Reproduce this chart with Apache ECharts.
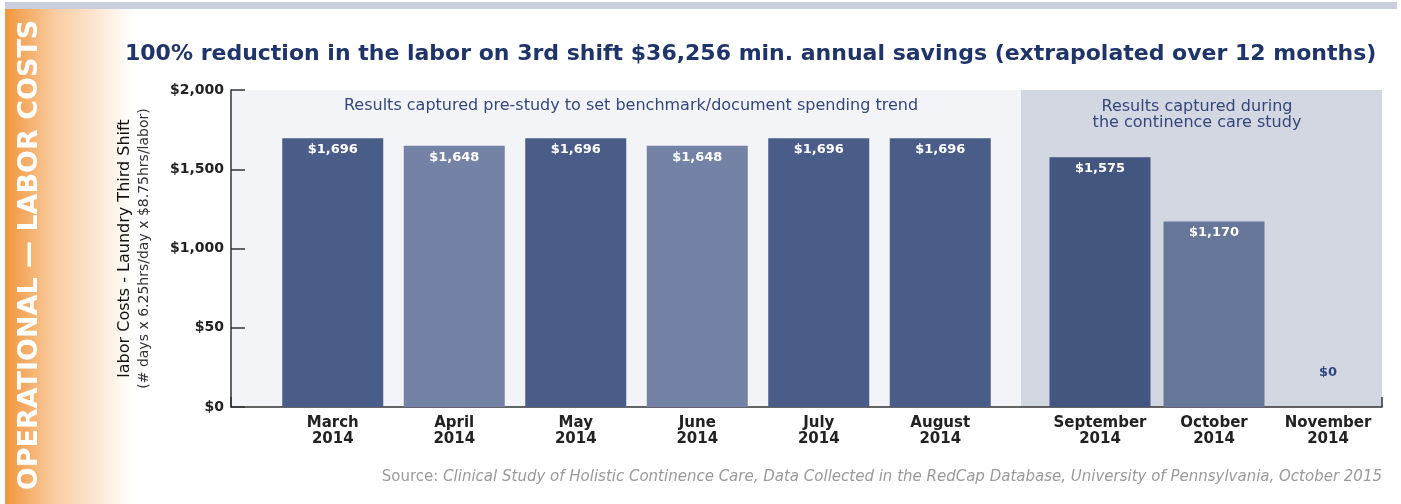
<!DOCTYPE html>
<html>
<head>
<meta charset="utf-8">
<script src="https://cdn.jsdelivr.net/npm/echarts@6/dist/echarts.min.js"></script>
<style>
  html, body { margin: 0; padding: 0; background: #fff; }
  #chart { width: 1401px; height: 504px; }
</style>
</head>
<body>
<div id="chart"></div>
<script>
  // months before the study (benchmark) and during the study
  const preMonths = ['March\n2014', 'April\n2014', 'May\n2014', 'June\n2014', 'July\n2014', 'August\n2014']
  const preCosts = [1696, 1648, 1696, 1648, 1696, 1696]
  const studyMonths = ['September\n2014', 'October\n2014', 'November\n2014']
  const studyCosts = [1575, 1170, 0]
  // tick labels exactly as printed on the original axis
  const yTickLabels = ['$0', '$50', '$1,000', '$1,500', '$2,000']

  const preColors = ['#4a5d89', '#7382a5', '#4a5d89', '#7382a5', '#4a5d89', '#4a5d89']
  const studyColors = ['#43567f', '#677799', '#677799']

  const FONT = 'DejaVu Sans'
  const money = v => '$' + v.toLocaleString('en-US')

  const valueLabel = {
    show: true,
    position: 'insideTop',
    distance: 5,
    color: '#fff',
    fontFamily: FONT,
    fontWeight: 'bold',
    fontSize: 13,
    formatter: p => money(p.value),
  }

  const monthAxis = (grid, data) => ({
    type: 'category',
    gridIndex: grid,
    data: data,
    axisLine: { show: false },
    axisTick: { show: false },
    axisLabel: {
      color: '#222',
      fontFamily: FONT,
      fontWeight: 'bold',
      fontSize: 15,
      lineHeight: 16,
      margin: 8,
      interval: 0,
    },
  })

  const hiddenY = grid => ({
    type: 'value', gridIndex: grid, min: 0, max: 2000, show: false,
  })

  const chart = echarts.init(document.getElementById('chart'))
  const option = {
    backgroundColor: '#fff',
    animation: false,
    title: {
      text: '100% reduction in the labor on 3rd shift $36,256 min. annual savings (extrapolated over 12 months)',
      left: 120,
      top: 38,
      textStyle: { color: '#1f3468', fontFamily: FONT, fontWeight: 'bold', fontSize: 22 },
    },
    grid: [
      { left: 231, right: 19, top: 90, bottom: 97 }, // frame
      { left: 272, width: 729, top: 90, bottom: 97 }, // pre-study
      { left: 1043, width: 342, top: 90, bottom: 97 }, // study
    ],
    xAxis: [
      {
        type: 'value', gridIndex: 0, min: 0, max: 1, interval: 1,
        axisLine: { show: true, lineStyle: { color: '#333', width: 1.5 } },
        axisTick: { show: true, inside: true, length: 10, lineStyle: { color: '#333', width: 1.5 } },
        axisLabel: { show: false },
        splitLine: { show: false },
      },
      monthAxis(1, preMonths),
      monthAxis(2, studyMonths),
    ],
    yAxis: [
      {
        type: 'value', gridIndex: 0, min: 0, max: 2000, interval: 500,
        axisLine: { show: true, lineStyle: { color: '#333', width: 1.5 } },
        axisTick: { show: true, inside: true, length: 14, lineStyle: { color: '#333', width: 1.5 } },
        axisLabel: {
          color: '#222', fontFamily: FONT, fontWeight: 'bold', fontSize: 14, margin: 7,
          formatter: v => yTickLabels[v / 500],
        },
        splitLine: { show: false },
        name: '{a|labor Costs - Laundry Third Shift}\n{b|(# days x 6.25hrs/day x $8.75hrs/labor)}',
        nameLocation: 'middle',
        nameRotate: 90,
        nameGap: 78,
        nameTextStyle: {
          rich: {
            a: { fontFamily: FONT, fontSize: 16, color: '#111', lineHeight: 20 },
            b: { fontFamily: FONT, fontSize: 14, color: '#333', lineHeight: 18 },
          },
        },
      },
      hiddenY(1),
      hiddenY(2),
    ],
    graphic: [
      { type: 'rect', shape: { x: 5, y: 2, width: 1392, height: 7 }, style: { fill: '#c9cfdc' } },
      {
        type: 'rect',
        shape: { x: 5, y: 9, width: 128, height: 495 },
        style: {
          fill: new echarts.graphic.LinearGradient(0, 0, 1, 0, [
            { offset: 0, color: '#f0963c' },
            { offset: 0.4, color: '#f9cda3' },
            { offset: 1, color: '#ffffff' },
          ]),
        },
      },
      {
        type: 'text',
        x: 30, y: 255, rotation: Math.PI / 2,
        style: {
          text: 'OPERATIONAL — LABOR COSTS',
          fill: '#fff', font: 'bold 27px "DejaVu Sans"',
          align: 'center', verticalAlign: 'middle',
        },
      },
      { type: 'rect', z: -1, shape: { x: 231, y: 90, width: 790, height: 317 }, style: { fill: '#f3f4f8' } },
      { type: 'rect', z: -1, shape: { x: 1021, y: 90, width: 361, height: 317 }, style: { fill: '#d3d7e2' } },
      {
        type: 'text', x: 631, y: 106,
        style: {
          text: 'Results captured pre-study to set benchmark/document spending trend',
          fill: '#34467a', font: '16px "DejaVu Sans"', align: 'center', verticalAlign: 'middle',
        },
      },
      {
        type: 'text', x: 1197, y: 115,
        style: {
          text: 'Results captured during\nthe continence care study',
          fill: '#34467a', font: '16px "DejaVu Sans"', lineHeight: 16, align: 'center', verticalAlign: 'middle',
        },
      },
      {
        type: 'text', x: 1382, y: 477,
        style: {
          text: '{a|Source: }{b|Clinical Study of Holistic Continence Care, Data Collected in the RedCap Database, University of Pennsylvania, October 2015}',
          align: 'right', verticalAlign: 'middle',
          rich: {
            a: { fill: '#9a9a9a', fontFamily: FONT, fontSize: 15 },
            b: { fill: '#9a9a9a', fontFamily: FONT, fontSize: 15, fontStyle: 'italic' },
          },
        },
      },
    ],
    series: [
      {
        type: 'bar',
        xAxisIndex: 1,
        yAxisIndex: 1,
        barWidth: 101,
        data: preCosts.map((v, i) => ({ value: v, itemStyle: { color: preColors[i] } })),
        label: valueLabel,
      },
      {
        type: 'bar',
        xAxisIndex: 2,
        yAxisIndex: 2,
        barWidth: 101,
        data: studyCosts.map((v, i) => {
          const item = { value: v, itemStyle: { color: studyColors[i] } }
          if (v === 0) {
            item.label = { position: 'top', distance: 28, color: '#2f4680' }
          }
          return item
        }),
        label: valueLabel,
      },
    ],
  }
  chart.setOption(option)
</script>
</body>
</html>
